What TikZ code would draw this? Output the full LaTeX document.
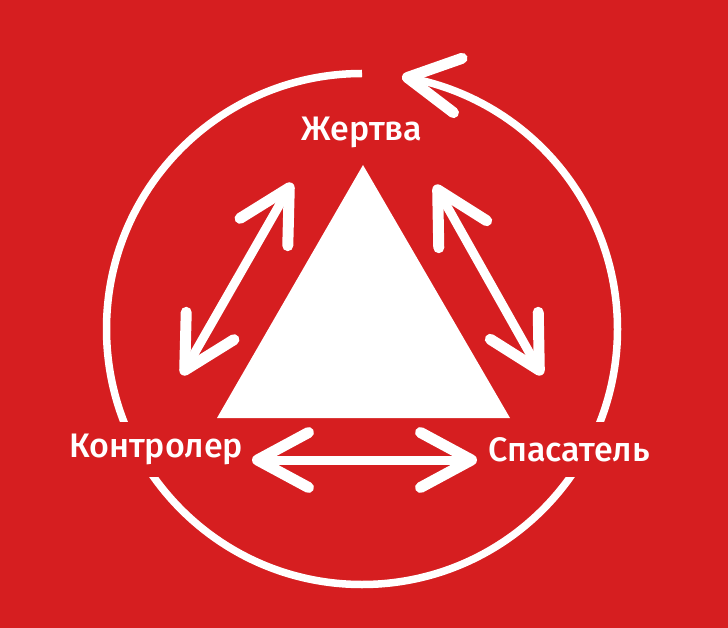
\documentclass[tikz,border=0pt]{standalone}
\usepackage{fontspec}
\setmainfont{Fira Sans}[UprightFont={* Medium}]
\usetikzlibrary{arrows.meta,bending}
\definecolor{bgred}{RGB}{214,30,32}
\tikzset{>={Straight Barb[length=51pt,width=55pt,line width=11pt,round]}}

\begin{document}
\begin{tikzpicture}[x=1pt, y=-1pt,
		role/.style={text=white, inner xsep=2pt,
			font=\fontsize{34}{34}\selectfont},
		gap/.style={fill=bgred, minimum height=55pt},
		ring/.style={draw=white, line width=7.5pt},
		link/.style={white, line width=9pt, <->}]
		\fill[bgred] (0,0) rectangle (728,628);
		\useasboundingbox (0,0) rectangle (728,628);

		\coordinate (hub) at (362,329);
		\draw[ring, ->] (hub) ++(-90:255.5)
			arc[start angle=-90, end angle=-441, radius=255.5];

		\coordinate (apex) at (363,165);
		\coordinate (baseL) at (217,418);
		\coordinate (baseR) at (510,418);
		\fill[white] (apex) -- (baseL) -- (baseR) -- cycle;

		\node[role] (victim) at (362,132) {Жертва};
		\node[role, gap] (ctrl) at (156,449.5) {Контролер};
		\node[role, gap] (saver) at (569,449.5) {Спасатель};

		\coordinate (vL) at (292,183);
		\coordinate (cU) at (182,375);
		\coordinate (vR) at (435,185);
		\coordinate (sU) at (542,375);
		\coordinate (cR) at (252,460);
		\coordinate (sL) at (477,460);
		\path [link]
			(cU) edge [] (vL)
			(vR) edge [] (sU)
			(cR) edge [] (sL);
\end{tikzpicture}
\end{document}
